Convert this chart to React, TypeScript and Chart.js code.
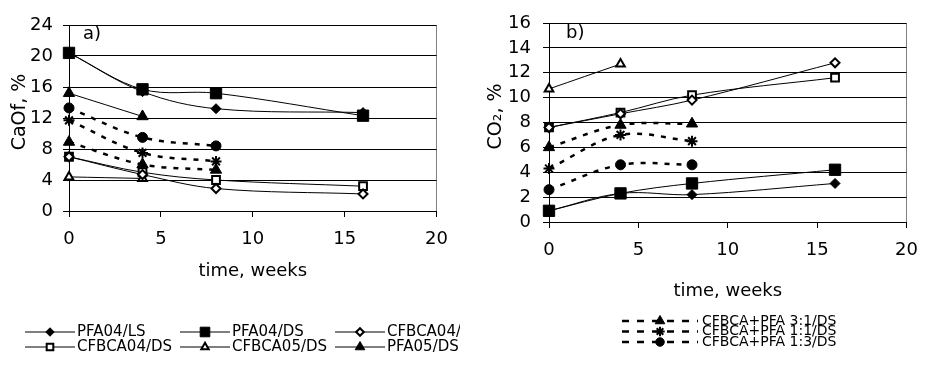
import React, { useEffect, useRef } from 'react';
import { Chart, registerables } from 'chart.js';
import { drawPoint } from 'chart.js/helpers';

Chart.register(...registerables);

// ---------- data ----------
const weeks = [0, 4, 8, 16];
const xTickStep = 5;
const xMax = 20;

// a) CaOf, %
const caofYMax = 24;
const caofYStep = 4;
const caofPFA04LS = [20.4, 15.4, 13.2, 12.7];
const caofPFA04DS = [20.4, 15.7, 15.2, 12.3];
const caofCFBCA04LS = [7.0, 4.7, 2.9, 2.2];
const caofCFBCA04DS = [7.0, 5.0, 4.0, 3.2];
const caofCFBCA05DS = [4.4, 4.2];
const caofPFA05DS = [15.2, 12.2];
const caofMix31 = [8.9, 6.0, 5.3];
const caofMix11 = [11.7, 7.5, 6.4];
const caofMix13 = [13.3, 9.5, 8.4];

// b) CO2, %
const co2YMax = 16;
const co2YStep = 2;
const co2PFA04LS = [0.9, 2.3, 2.2, 3.1];
const co2PFA04DS = [0.9, 2.3, 3.1, 4.2];
const co2CFBCA04LS = [7.6, 8.7, 9.8, 12.8];
const co2CFBCA04DS = [7.6, 8.8, 10.2, 11.6];
const co2CFBCA05DS = [10.7, 12.7];
const co2Mix31 = [6.0, 7.8, 7.9];
const co2Mix11 = [4.3, 7.0, 6.5];
const co2Mix13 = [2.6, 4.6, 4.6];

const labels = {
  pfa04ls: 'PFA04/LS',
  pfa04ds: 'PFA04/DS',
  cfbca04ls: 'CFBCA04/LS',
  cfbca04ds: 'CFBCA04/DS',
  cfbca05ds: 'CFBCA05/DS',
  pfa05ds: 'PFA05/DS',
  mix31: 'CFBCA+PFA 3:1/DS',
  mix11: 'CFBCA+PFA 1:1/DS',
  mix13: 'CFBCA+PFA 1:3/DS',
};

// ---------- styles ----------
const FONT = 'DejaVu Sans';
const BLACK = '#000000';

type Kind = 'pfa04ls' | 'pfa04ds' | 'cfbca04ls' | 'cfbca04ds' | 'cfbca05ds' | 'pfa05ds' | 'mix31' | 'mix11' | 'mix13';

const styleOf: Record<Kind, any> = {
  pfa04ls: { pointStyle: 'rectRot', pointRadius: 5, pointBackgroundColor: BLACK, pointBorderWidth: 1 },
  pfa04ds: { pointStyle: 'rect', pointRadius: 8, pointBackgroundColor: BLACK, pointBorderWidth: 1 },
  cfbca04ls: { pointStyle: 'rectRot', pointRadius: 4.5, pointBackgroundColor: '#ffffff', pointBorderWidth: 2 },
  cfbca04ds: { pointStyle: 'rect', pointRadius: 5.5, pointBackgroundColor: '#ffffff', pointBorderWidth: 2 },
  cfbca05ds: { pointStyle: 'triangle', pointRadius: 5, pointBackgroundColor: '#ffffff', pointBorderWidth: 2 },
  pfa05ds: { pointStyle: 'triangle', pointRadius: 6.5, pointBackgroundColor: BLACK, pointBorderWidth: 1 },
  mix31: { pointStyle: 'triangle', pointRadius: 6.5, pointBackgroundColor: BLACK, pointBorderWidth: 1 },
  mix11: { pointStyle: 'star', pointRadius: 5.5, pointBackgroundColor: BLACK, pointBorderWidth: 2 },
  mix13: { pointStyle: 'circle', pointRadius: 5, pointBackgroundColor: BLACK, pointBorderWidth: 1 },
};

const dashedKinds: Kind[] = ['mix31', 'mix11', 'mix13'];

function makeDataset(kind: Kind, values: number[]) {
  const dashed = dashedKinds.includes(kind);
  return {
    label: labels[kind],
    data: values.map((v, i) => ({ x: weeks[i], y: v })),
    borderColor: BLACK,
    backgroundColor: BLACK,
    borderWidth: dashed ? 2.5 : 1,
    borderDash: dashed ? [5, 7] : [],
    legendDash: dashed ? [7, 8] : [],
    tension: 0.35,
    fill: false,
    clip: false,
    pointBorderColor: BLACK,
    ...styleOf[kind],
  };
}

// ---------- plugins ----------
const customLegend = {
  id: 'customLegend',
  afterDraw(chart: any, _args: any, opts: any) {
    if (!opts || !opts.items) return;
    const ctx = chart.ctx;
    ctx.save();
    for (const it of opts.items) {
      const ds = chart.data.datasets[it.index];
      const x1 = it.x - opts.gap - opts.lineLen;
      const x2 = it.x - opts.gap;
      ctx.strokeStyle = BLACK;
      ctx.lineWidth = ds.borderWidth;
      ctx.setLineDash(ds.legendDash || []);
      ctx.beginPath();
      ctx.moveTo(x1, it.y);
      ctx.lineTo(x2, it.y);
      ctx.stroke();
      ctx.setLineDash([]);
      ctx.fillStyle = ds.pointBackgroundColor;
      ctx.strokeStyle = BLACK;
      ctx.lineWidth = ds.pointBorderWidth;
      drawPoint(
        ctx,
        { pointStyle: ds.pointStyle, rotation: 0, radius: ds.pointRadius * opts.markerScale, borderWidth: ds.pointBorderWidth },
        (x1 + x2) / 2,
        it.y
      );
      ctx.font = opts.font;
      ctx.fillStyle = BLACK;
      ctx.textAlign = 'left';
      ctx.textBaseline = 'middle';
      ctx.fillText(ds.label, it.x, it.y);
    }
    ctx.restore();
  },
};

const panelLabel = {
  id: 'panelLabel',
  afterDraw(chart: any, _args: any, opts: any) {
    if (!opts || !opts.text) return;
    const ctx = chart.ctx;
    const area = chart.chartArea;
    ctx.save();
    ctx.font = `18px "${FONT}"`;
    ctx.fillStyle = BLACK;
    ctx.textAlign = 'left';
    ctx.textBaseline = 'middle';
    ctx.fillText(opts.text, area.left + opts.dx, area.top + opts.dy);
    ctx.restore();
  },
};

// ---------- chart config ----------
function buildOptions(p: {
  yMax: number;
  yStep: number;
  yTitle: string;
  yWidth: number;
  yTitlePad: number;
  yTickPad: number;
  xTitlePad: number;
  padding: any;
  legend: any;
  label: any;
}) {
  return {
    type: 'line',
    options: {
      responsive: false,
      animation: false,
      devicePixelRatio: 1,
      layout: { padding: p.padding },
      plugins: {
        legend: { display: false },
        tooltip: { enabled: false },
        customLegend: p.legend,
        panelLabel: p.label,
      },
      scales: {
        x: {
          type: 'linear',
          min: 0,
          max: xMax,
          afterFit: (s: any) => {
            s.height = 80;
          },
          ticks: {
            stepSize: xTickStep,
            color: BLACK,
            padding: 12,
            maxRotation: 0,
            font: { family: FONT, size: 18 },
          },
          grid: {
            drawOnChartArea: true,
            color: (c: any) => (c.tick && c.tick.value === xMax ? '#808080' : 'rgba(0,0,0,0)'),
            tickColor: BLACK,
            tickLength: 6,
            lineWidth: 1,
          },
          border: { color: BLACK, width: 1 },
          title: {
            display: true,
            text: 'time, weeks',
            color: BLACK,
            font: { family: FONT, size: 18 },
            padding: { top: 0, bottom: p.xTitlePad },
          },
        },
        y: {
          type: 'linear',
          min: 0,
          max: p.yMax,
          afterFit: (s: any) => {
            s.width = p.yWidth;
          },
          ticks: {
            stepSize: p.yStep,
            color: BLACK,
            padding: p.yTickPad,
            font: { family: FONT, size: 18 },
          },
          grid: {
            color: BLACK,
            tickColor: BLACK,
            tickLength: 6,
            lineWidth: 1,
          },
          border: { color: BLACK, width: 1 },
          title: {
            display: true,
            text: p.yTitle,
            color: BLACK,
            font: { family: FONT, size: 19 },
            padding: { top: p.yTitlePad, bottom: 0 },
          },
        },
      },
    },
  };
}

function ChartCanvas({ config, width, height, left }: { config: any; width: number; height: number; left: number }) {
  const ref = useRef<HTMLCanvasElement | null>(null);
  useEffect(() => {
    if (!ref.current) return;
    const chart = new Chart(ref.current, config);
    return () => chart.destroy();
  }, [config]);
  return (
    <canvas
      ref={ref}
      width={width}
      height={height}
      style={{ position: 'absolute', left, top: 0, width, height, display: 'block' }}
    />
  );
}

const leftDatasets = [
  makeDataset('pfa04ls', caofPFA04LS),
  makeDataset('pfa04ds', caofPFA04DS),
  makeDataset('cfbca04ls', caofCFBCA04LS),
  makeDataset('cfbca04ds', caofCFBCA04DS),
  makeDataset('cfbca05ds', caofCFBCA05DS),
  makeDataset('pfa05ds', caofPFA05DS),
  makeDataset('mix31', caofMix31),
  makeDataset('mix11', caofMix11),
  makeDataset('mix13', caofMix13),
];

const rightDatasets = [
  makeDataset('mix31', co2Mix31),
  makeDataset('mix11', co2Mix11),
  makeDataset('mix13', co2Mix13),
  makeDataset('pfa04ls', co2PFA04LS),
  makeDataset('pfa04ds', co2PFA04DS),
  makeDataset('cfbca04ls', co2CFBCA04LS),
  makeDataset('cfbca04ds', co2CFBCA04DS),
  makeDataset('cfbca05ds', co2CFBCA05DS),
];

const leftCols = [77, 232, 387];
const leftRows = [332, 347];

const leftConfig: any = {
  ...buildOptions({
    yMax: caofYMax,
    yStep: caofYStep,
    yTitle: '  CaOf, %',
    yWidth: 69,
    yTitlePad: 8.6,
    yTickPad: 10,
    xTitlePad: 9,
    padding: { top: 25, left: 0, right: 21, bottom: 74 },
    legend: {
      font: `15px "${FONT}"`,
      gap: 2,
      lineLen: 50,
      markerScale: 0.85,
      items: [0, 1, 2, 3, 4, 5].map((idx) => ({ index: idx, x: leftCols[idx % 3], y: leftRows[Math.floor(idx / 3)] })),
    },
    label: { text: 'a)', dx: 14, dy: 9 },
  }),
  plugins: [customLegend, panelLabel],
};
leftConfig.data = { datasets: leftDatasets };

const rightRows = [321, 331.5, 342];

const rightConfig: any = {
  ...buildOptions({
    yMax: co2YMax,
    yStep: co2YStep,
    yTitle: '  CO₂, %',
    yWidth: 79,
    yTitlePad: 14.6,
    yTickPad: 12,
    xTitlePad: 0,
    padding: { top: 23, left: 0, right: 13, bottom: 63 },
    legend: {
      font: `14px "${FONT}"`,
      gap: 4,
      lineLen: 76,
      markerScale: 0.85,
      items: [0, 1, 2].map((idx) => ({ index: idx, x: 232, y: rightRows[idx] })),
    },
    label: { text: 'b)', dx: 17, dy: 10 },
  }),
  plugins: [customLegend, panelLabel],
};
rightConfig.data = { datasets: rightDatasets };

export default function App() {
  return (
    <div style={{ position: 'absolute', left: 0, top: 0, width: 930, height: 365, background: '#ffffff', overflow: 'hidden' }}>
      <ChartCanvas config={leftConfig} width={460} height={365} left={0} />
      <ChartCanvas config={rightConfig} width={460} height={365} left={470} />
    </div>
  );
}
